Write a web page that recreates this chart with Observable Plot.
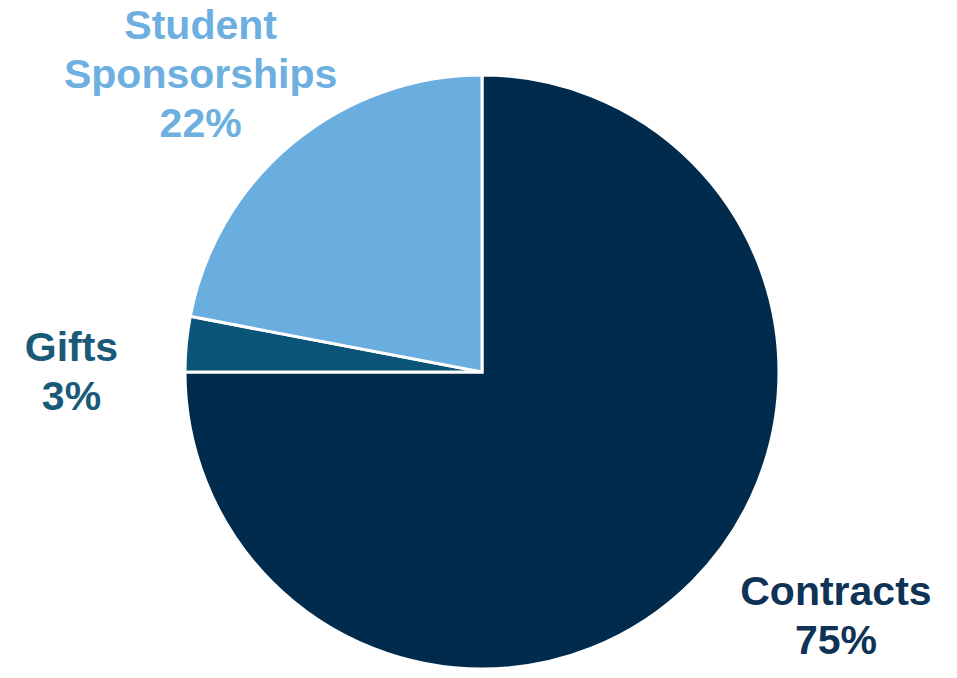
<!DOCTYPE html>
<html>
<head>
<meta charset="utf-8">
<script src="https://cdn.jsdelivr.net/npm/d3@7"></script>
<script src="https://cdn.jsdelivr.net/npm/@observablehq/plot@0.6"></script>
<style>
  html, body { margin: 0; padding: 0; background: #ffffff; }
  #chart { width: 957px; height: 678px; }
</style>
</head>
<body>
<div id="chart"></div>
<script>
// ---- Data ----
const categories = ["Contracts", "Gifts", "Student Sponsorships"];
const shares = [75, 3, 22];
const labelTexts = ["Contracts\n75%", "Gifts\n3%", "Student\nSponsorships\n22%"];

// ---- Styles / layout (kept apart from data) ----
const sliceColors = ["#002b4c", "#0a5577", "#6aaddf"];
const textColors = ["#0f3356", "#1a5a79", "#6cafe0"];
// label anchor positions in pie-radius units (x right, y up), relative to pie centre
const labelX = [1.19, -1.384, -0.949];
const labelY = [-0.812, 0.010, 1.010];

const W = 957, H = 678;
const CX = 482, CY = 372, R = 297;

const data = categories.map((c, i) => ({
  category: c, share: shares[i], label: labelTexts[i],
  lx: labelX[i], ly: labelY[i], color: textColors[i]
}));

const pie = d3.pie().sort(null).value(d => d.share).startAngle(0).endAngle(2 * Math.PI);
const arcs = pie(data);

function pieMark(index, scales) {
  const cx = scales.x(0), cy = scales.y(0);
  const r = scales.x(1) - scales.x(0);
  const arc = d3.arc().innerRadius(0).outerRadius(r);
  const g = d3.create("svg:g").attr("transform", `translate(${cx},${cy})`);
  g.selectAll("path").data(arcs).join("path")
    .attr("d", arc)
    .attr("fill", (d, i) => sliceColors[i])
    .attr("stroke", "#ffffff")
    .attr("stroke-width", 3)
    .attr("stroke-linejoin", "miter");
  return g.node();
}

const chart = Plot.plot({
  width: W,
  height: H,
  margin: 0,
  style: { background: "#ffffff", fontFamily: "'Liberation Sans', Arial, sans-serif" },
  x: { domain: [-CX / R, (W - CX) / R], range: [0, W], axis: null },
  y: { domain: [-(H - CY) / R, CY / R], range: [H, 0], axis: null },
  marks: [
    pieMark,
    Plot.text(data, {
      x: "lx", y: "ly", text: "label",
      fill: d => d.color,
      fontSize: 41, fontWeight: "bold",
      lineHeight: 1.2,
      textAnchor: "middle", lineAnchor: "middle"
    })
  ]
});
document.getElementById("chart").append(chart);
</script>
</body>
</html>
